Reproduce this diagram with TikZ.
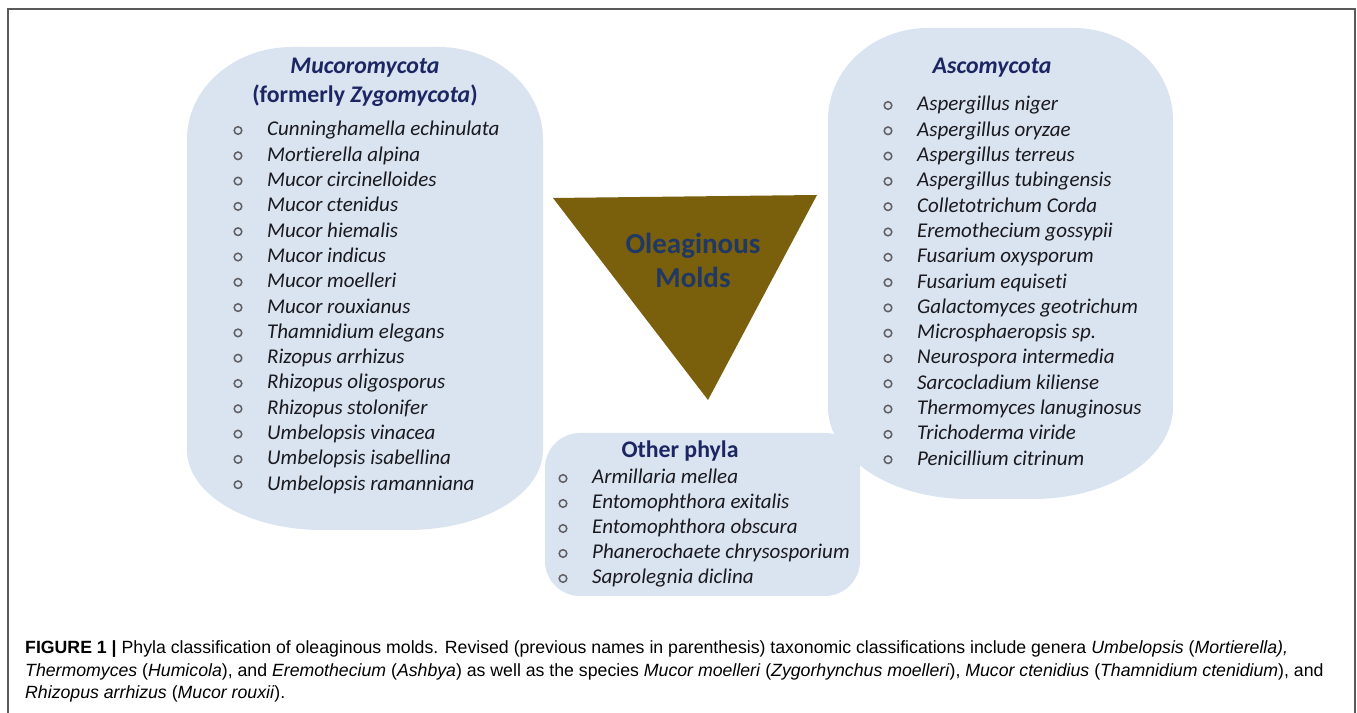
\documentclass[tikz,border=0pt]{standalone}
\usepackage{fontspec}
\setmainfont{Carlito}[Ligatures=NoCommon]
\newfontfamily\capfont{Liberation Sans}
\definecolor{phylumfill}{RGB}{218,227,240}
\definecolor{titleblue}{RGB}{28,38,98}
\definecolor{itemtext}{RGB}{25,25,30}
\definecolor{bulletgray}{RGB}{95,95,100}
\definecolor{moldbrown}{RGB}{122,95,12}
\definecolor{moldblue}{RGB}{31,56,100}
\definecolor{framegray}{RGB}{90,90,90}

\begin{document}
\begin{tikzpicture}[x=1pt, y=1pt,
        item/.style = {anchor=base west, inner sep=0pt, text=itemtext,
                       font=\fontsize{21}{25}\selectfont\itshape},
        phylumtitle/.style = {anchor=base, inner sep=0pt, text=titleblue,
                       font=\fontsize{23.8}{28}\selectfont\bfseries},
        bulletring/.style = {draw=bulletgray, line width=1.5pt},
        captionline/.style = {anchor=base west, inner sep=0pt,
                       font=\capfont\fontsize{17.7}{23}\selectfont}]
        \useasboundingbox (0,0) rectangle (1357,712);
        \draw[framegray, line width=1.4pt] (8,-5) -- (8,703) -- (1355,703) -- (1355,-5);

        % phylum boxes
        \fill[phylumfill] (292,665) -- (438,665)
            arc[start angle=90, end angle=0, x radius=105, y radius=92] -- (543,262)
            arc[start angle=0, end angle=-90, x radius=135, y radius=80] -- (322,182)
            arc[start angle=270, end angle=180, x radius=135, y radius=80] -- (187,573)
            arc[start angle=180, end angle=90, x radius=105, y radius=92] -- cycle;
        \fill[phylumfill] (928,684) -- (1073,684)
            arc[start angle=90, end angle=0, x radius=100, y radius=92] -- (1173,305)
            arc[start angle=0, end angle=-90, x radius=140, y radius=92] -- (968,213)
            arc[start angle=270, end angle=180, x radius=140, y radius=92] -- (828,592)
            arc[start angle=180, end angle=90, x radius=100, y radius=92] -- cycle;
        \fill[phylumfill, rounded corners=35pt] (545,116) rectangle (860,279);

        % centre triangle
        \fill[moldbrown] (553,514) -- (817,517) -- (708,312) -- cycle;
        \node[anchor=base, inner sep=0pt, text=moldblue,
              font=\fontsize{29}{34}\selectfont\bfseries] (oleag) at (693,458) {Oleaginous};
        \node[anchor=base, inner sep=0pt, text=moldblue,
              font=\fontsize{29}{34}\selectfont\bfseries] (molds) at (693,424) {Molds};

        % Mucoromycota
        \node[phylumtitle] (muctitle) at (365,638) {\itshape Mucoromycota};
        \node[phylumtitle] (mucformer) at (365,609) {(formerly \textit{Zygomycota})};
        \foreach \name [count=\i] in {Cunninghamella echinulata, Mortierella alpina,
                Mucor circinelloides, Mucor ctenidus, Mucor hiemalis, Mucor indicus,
                Mucor moelleri, Mucor rouxianus, Thamnidium elegans, Rizopus arrhizus,
                Rhizopus oligosporus, Rhizopus stolonifer, Umbelopsis vinacea,
                Umbelopsis isabellina, Umbelopsis ramanniana}{
            \node[item] (muc-\i) at (267,{576-25.3*(\i-1)}) {\name};
            \draw[bulletring] ([xshift=-29pt, yshift=5.5pt]muc-\i.base west) circle (3.8pt);
        }

        % Ascomycota
        \node[phylumtitle] (ascotitle) at (992,638) {\itshape Ascomycota};
        \foreach \name [count=\i] in {Aspergillus niger, Aspergillus oryzae,
                Aspergillus terreus, Aspergillus tubingensis, Colletotrichum Corda,
                Eremothecium gossypii, Fusarium oxysporum, Fusarium equiseti,
                Galactomyces geotrichum, Microsphaeropsis sp., Neurospora intermedia,
                Sarcocladium kiliense, Thermomyces lanuginosus, Trichoderma viride,
                Penicillium citrinum}{
            \node[item] (asco-\i) at (917,{601-25.3*(\i-1)}) {\name};
            \draw[bulletring] ([xshift=-29pt, yshift=5.5pt]asco-\i.base west) circle (3.8pt);
        }

        % other phyla
        \node[phylumtitle] (othertitle) at (680,254) {Other phyla};
        \foreach \name [count=\i] in {Armillaria mellea, Entomophthora exitalis,
                Entomophthora obscura, Phanerochaete chrysosporium, Saprolegnia diclina}{
            \node[item] (oth-\i) at (592,{228-25*(\i-1)}) {\name};
            \draw[bulletring] ([xshift=-29pt, yshift=5.5pt]oth-\i.base west) circle (3.8pt);
        }

        % caption
        \node[captionline] (cap-1) at (25,58) {\textbf{FIGURE 1 |} Phyla classification of oleaginous molds. Revised (previous names in parenthesis) taxonomic classifications include genera \textit{Umbelopsis} (\textit{Mortierella),}};
        \node[captionline] (cap-2) at (25,35) {\textit{Thermomyces} (\textit{Humicola}), and \textit{Eremothecium} (\textit{Ashbya}) as well as the species \textit{Mucor moelleri} (\textit{Zygorhynchus moelleri}), \textit{Mucor ctenidius} (\textit{Thamnidium ctenidium}), and};
        \node[captionline] (cap-3) at (25,13) {\textit{Rhizopus arrhizus} (\textit{Mucor rouxii}).};
    \end{tikzpicture}
\end{document}
